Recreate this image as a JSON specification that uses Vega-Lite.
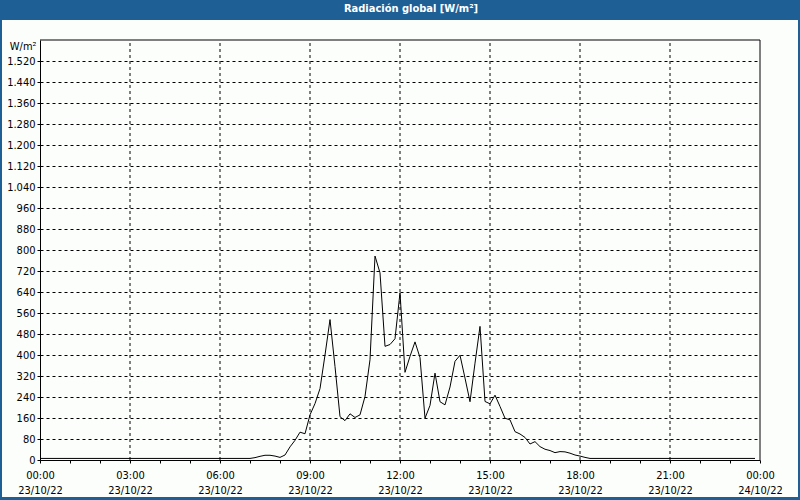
{
  "$schema": "https://vega.github.io/schema/vega-lite/v6.json",
  "width": 796,
  "height": 477,
  "autosize": {"type": "none"},
  "padding": {"left": 2, "top": 20, "right": 2, "bottom": 3},
  "background": "#1e5f96",
  "title": {
    "text": "Radiación global [W/m²]",
    "color": "#ffffff",
    "fontSize": 11,
    "fontWeight": "bold",
    "anchor": "middle",
    "frame": "group",
    "offset": 10,
    "baseline": "middle",
    "dx": 11,
    "dy": 10
  },
  "config": {
    "font": "DejaVu Sans Condensed",
    "view": {"fill": "#fcfefc", "stroke": null},
    "axis": {
      "labelColor": "#000000",
      "labelFontSize": 11,
      "domainColor": "#000000",
      "tickColor": "#000000",
      "gridColor": "#000000",
      "gridOpacity": 1,
      "gridDash": [3, 3],
      "titleColor": "#000000"
    }
  },
  "encoding": {
    "x": {
      "field": "t",
      "type": "temporal",
      "scale": {
        "domain": [{"year": 2022, "month": 10, "date": 23, "hours": 0}, {"year": 2022, "month": 10, "date": 24, "hours": 0}],
        "range": [38, 758]
      },
      "axis": {
        "orient": "bottom",
        "offset": -37,
        "values": [
          {"year": 2022, "month": 10, "date": 23, "hours": 0}, {"year": 2022, "month": 10, "date": 23, "hours": 1}, {"year": 2022, "month": 10, "date": 23, "hours": 2},
          {"year": 2022, "month": 10, "date": 23, "hours": 3}, {"year": 2022, "month": 10, "date": 23, "hours": 4}, {"year": 2022, "month": 10, "date": 23, "hours": 5},
          {"year": 2022, "month": 10, "date": 23, "hours": 6}, {"year": 2022, "month": 10, "date": 23, "hours": 7}, {"year": 2022, "month": 10, "date": 23, "hours": 8},
          {"year": 2022, "month": 10, "date": 23, "hours": 9}, {"year": 2022, "month": 10, "date": 23, "hours": 10}, {"year": 2022, "month": 10, "date": 23, "hours": 11},
          {"year": 2022, "month": 10, "date": 23, "hours": 12}, {"year": 2022, "month": 10, "date": 23, "hours": 13}, {"year": 2022, "month": 10, "date": 23, "hours": 14},
          {"year": 2022, "month": 10, "date": 23, "hours": 15}, {"year": 2022, "month": 10, "date": 23, "hours": 16}, {"year": 2022, "month": 10, "date": 23, "hours": 17},
          {"year": 2022, "month": 10, "date": 23, "hours": 18}, {"year": 2022, "month": 10, "date": 23, "hours": 19}, {"year": 2022, "month": 10, "date": 23, "hours": 20},
          {"year": 2022, "month": 10, "date": 23, "hours": 21}, {"year": 2022, "month": 10, "date": 23, "hours": 22}, {"year": 2022, "month": 10, "date": 23, "hours": 23},
          {"year": 2022, "month": 10, "date": 24, "hours": 0}
        ],
        "labelExpr": "indexof(['00','03','06','09','12','15','18','21'], timeFormat(datum.value, '%H')) >= 0 ? [timeFormat(datum.value, '%H:%M'), timeFormat(datum.value, '%d/%m/%y')] : ''",
        "grid": false,
        "ticks": true,
        "tickSize": 3,
        "domain": true,
        "labelFlush": false,
        "labelOverlap": false,
        "labelBound": false,
        "labelPadding": 6,
        "labelLineHeight": 15,
        "labelBaseline": "top",
        "title": null
      }
    },
    "y": {
      "field": "v",
      "type": "quantitative",
      "scale": {"domain": [0, 1600], "range": [440, 20], "nice": false},
      "axis": {
        "orient": "left",
        "offset": -38,
        "values": [0, 80, 160, 240, 320, 400, 480, 560, 640, 720, 800, 880, 960, 1040, 1120, 1200, 1280, 1360, 1440, 1520],
        "labelExpr": "replace(format(datum.value, ','), ',', '.')",
        "grid": true,
        "ticks": true,
        "tickSize": 3,
        "domain": true,
        "labelPadding": 2,
        "labelOverlap": false,
        "labelBound": false,
        "title": "W/m²",
        "titleAngle": 0,
        "titleX": -4,
        "titleY": 26,
        "titleAlign": "right",
        "titleBaseline": "middle",
        "titleFontWeight": "normal",
        "titleFontSize": 11
      }
    }
  },
  "layer": [
    {
      "data": {"values": [
        {"t": "2022-10-23T03:00", "v": 0, "v2": 1600}, {"t": "2022-10-23T06:00", "v": 0, "v2": 1600}, {"t": "2022-10-23T09:00", "v": 0, "v2": 1600},
        {"t": "2022-10-23T12:00", "v": 0, "v2": 1600}, {"t": "2022-10-23T15:00", "v": 0, "v2": 1600}, {"t": "2022-10-23T18:00", "v": 0, "v2": 1600},
        {"t": "2022-10-23T21:00", "v": 0, "v2": 1600}
      ]},
      "mark": {"type": "rule", "color": "#000000", "strokeWidth": 1, "strokeDash": [3, 3]},
      "encoding": {"y2": {"field": "v2"}}
    },
    {
      "data": {"values": [{"t": "2022-10-24T00:00", "v": 0, "v2": 1600}]},
      "mark": {"type": "rule", "color": "#000000", "strokeWidth": 1},
      "encoding": {"y2": {"field": "v2"}}
    },
    {
      "data": {"values": [{"t": "2022-10-23T00:00", "t2": "2022-10-24T00:00", "v": 1600}]},
      "mark": {"type": "rule", "color": "#000000", "strokeWidth": 1},
      "encoding": {"x2": {"field": "t2"}}
    },
    {
      "data": {
        "values": [
          {"t": "2022-10-23T00:00", "v": 6}, {"t": "2022-10-23T00:10", "v": 6}, {"t": "2022-10-23T00:20", "v": 6}, {"t": "2022-10-23T00:30", "v": 6}, {"t": "2022-10-23T00:40", "v": 6}, {"t": "2022-10-23T00:50", "v": 6},
          {"t": "2022-10-23T01:00", "v": 6}, {"t": "2022-10-23T01:10", "v": 6}, {"t": "2022-10-23T01:20", "v": 6}, {"t": "2022-10-23T01:30", "v": 6}, {"t": "2022-10-23T01:40", "v": 6}, {"t": "2022-10-23T01:50", "v": 6},
          {"t": "2022-10-23T02:00", "v": 6}, {"t": "2022-10-23T02:10", "v": 6}, {"t": "2022-10-23T02:20", "v": 6}, {"t": "2022-10-23T02:30", "v": 6}, {"t": "2022-10-23T02:40", "v": 6}, {"t": "2022-10-23T02:50", "v": 6},
          {"t": "2022-10-23T03:00", "v": 6}, {"t": "2022-10-23T03:10", "v": 6}, {"t": "2022-10-23T03:20", "v": 6}, {"t": "2022-10-23T03:30", "v": 6}, {"t": "2022-10-23T03:40", "v": 6}, {"t": "2022-10-23T03:50", "v": 6},
          {"t": "2022-10-23T04:00", "v": 6}, {"t": "2022-10-23T04:10", "v": 6}, {"t": "2022-10-23T04:20", "v": 6}, {"t": "2022-10-23T04:30", "v": 6}, {"t": "2022-10-23T04:40", "v": 6}, {"t": "2022-10-23T04:50", "v": 6},
          {"t": "2022-10-23T05:00", "v": 6}, {"t": "2022-10-23T05:10", "v": 6}, {"t": "2022-10-23T05:20", "v": 6}, {"t": "2022-10-23T05:30", "v": 6}, {"t": "2022-10-23T05:40", "v": 6}, {"t": "2022-10-23T05:50", "v": 6},
          {"t": "2022-10-23T06:00", "v": 6}, {"t": "2022-10-23T06:10", "v": 6}, {"t": "2022-10-23T06:20", "v": 6}, {"t": "2022-10-23T06:30", "v": 6}, {"t": "2022-10-23T06:40", "v": 6}, {"t": "2022-10-23T06:50", "v": 6},
          {"t": "2022-10-23T07:00", "v": 6}, {"t": "2022-10-23T07:10", "v": 9}, {"t": "2022-10-23T07:20", "v": 14}, {"t": "2022-10-23T07:30", "v": 18}, {"t": "2022-10-23T07:40", "v": 18}, {"t": "2022-10-23T07:50", "v": 15},
          {"t": "2022-10-23T08:00", "v": 10}, {"t": "2022-10-23T08:10", "v": 19}, {"t": "2022-10-23T08:20", "v": 50}, {"t": "2022-10-23T08:30", "v": 75}, {"t": "2022-10-23T08:40", "v": 106}, {"t": "2022-10-23T08:50", "v": 100},
          {"t": "2022-10-23T09:00", "v": 172}, {"t": "2022-10-23T09:10", "v": 215}, {"t": "2022-10-23T09:20", "v": 272}, {"t": "2022-10-23T09:30", "v": 400}, {"t": "2022-10-23T09:40", "v": 535}, {"t": "2022-10-23T09:50", "v": 356},
          {"t": "2022-10-23T10:00", "v": 165}, {"t": "2022-10-23T10:10", "v": 150}, {"t": "2022-10-23T10:20", "v": 176}, {"t": "2022-10-23T10:30", "v": 162}, {"t": "2022-10-23T10:40", "v": 172}, {"t": "2022-10-23T10:50", "v": 242},
          {"t": "2022-10-23T11:00", "v": 382}, {"t": "2022-10-23T11:10", "v": 777}, {"t": "2022-10-23T11:20", "v": 713}, {"t": "2022-10-23T11:30", "v": 433}, {"t": "2022-10-23T11:40", "v": 440}, {"t": "2022-10-23T11:50", "v": 462},
          {"t": "2022-10-23T12:00", "v": 637}, {"t": "2022-10-23T12:10", "v": 334}, {"t": "2022-10-23T12:20", "v": 395}, {"t": "2022-10-23T12:30", "v": 450}, {"t": "2022-10-23T12:40", "v": 390}, {"t": "2022-10-23T12:50", "v": 159},
          {"t": "2022-10-23T13:00", "v": 208}, {"t": "2022-10-23T13:10", "v": 331}, {"t": "2022-10-23T13:20", "v": 222}, {"t": "2022-10-23T13:30", "v": 210}, {"t": "2022-10-23T13:40", "v": 278}, {"t": "2022-10-23T13:50", "v": 376},
          {"t": "2022-10-23T14:00", "v": 399}, {"t": "2022-10-23T14:10", "v": 312}, {"t": "2022-10-23T14:20", "v": 222}, {"t": "2022-10-23T14:30", "v": 369}, {"t": "2022-10-23T14:40", "v": 509}, {"t": "2022-10-23T14:50", "v": 223},
          {"t": "2022-10-23T15:00", "v": 214}, {"t": "2022-10-23T15:10", "v": 247}, {"t": "2022-10-23T15:20", "v": 204}, {"t": "2022-10-23T15:30", "v": 159}, {"t": "2022-10-23T15:40", "v": 153}, {"t": "2022-10-23T15:50", "v": 108},
          {"t": "2022-10-23T16:00", "v": 99}, {"t": "2022-10-23T16:10", "v": 86}, {"t": "2022-10-23T16:20", "v": 61}, {"t": "2022-10-23T16:30", "v": 70}, {"t": "2022-10-23T16:40", "v": 51}, {"t": "2022-10-23T16:50", "v": 41},
          {"t": "2022-10-23T17:00", "v": 36}, {"t": "2022-10-23T17:10", "v": 28}, {"t": "2022-10-23T17:20", "v": 32}, {"t": "2022-10-23T17:30", "v": 31}, {"t": "2022-10-23T17:40", "v": 26}, {"t": "2022-10-23T17:50", "v": 19},
          {"t": "2022-10-23T18:00", "v": 15}, {"t": "2022-10-23T18:10", "v": 10}, {"t": "2022-10-23T18:20", "v": 6}, {"t": "2022-10-23T18:30", "v": 6}, {"t": "2022-10-23T18:40", "v": 6}, {"t": "2022-10-23T18:50", "v": 6},
          {"t": "2022-10-23T19:00", "v": 6}, {"t": "2022-10-23T19:10", "v": 6}, {"t": "2022-10-23T19:20", "v": 6}, {"t": "2022-10-23T19:30", "v": 6}, {"t": "2022-10-23T19:40", "v": 6}, {"t": "2022-10-23T19:50", "v": 6},
          {"t": "2022-10-23T20:00", "v": 6}, {"t": "2022-10-23T20:10", "v": 6}, {"t": "2022-10-23T20:20", "v": 6}, {"t": "2022-10-23T20:30", "v": 6}, {"t": "2022-10-23T20:40", "v": 6}, {"t": "2022-10-23T20:50", "v": 6},
          {"t": "2022-10-23T21:00", "v": 6}, {"t": "2022-10-23T21:10", "v": 6}, {"t": "2022-10-23T21:20", "v": 6}, {"t": "2022-10-23T21:30", "v": 6}, {"t": "2022-10-23T21:40", "v": 6}, {"t": "2022-10-23T21:50", "v": 6},
          {"t": "2022-10-23T22:00", "v": 6}, {"t": "2022-10-23T22:10", "v": 6}, {"t": "2022-10-23T22:20", "v": 6}, {"t": "2022-10-23T22:30", "v": 6}, {"t": "2022-10-23T22:40", "v": 6}, {"t": "2022-10-23T22:50", "v": 6},
          {"t": "2022-10-23T23:00", "v": 6}, {"t": "2022-10-23T23:10", "v": 6}, {"t": "2022-10-23T23:20", "v": 6}, {"t": "2022-10-23T23:30", "v": 6}, {"t": "2022-10-23T23:40", "v": 6}, {"t": "2022-10-23T23:50", "v": 6}
        ]
      },
      "mark": {"type": "line", "color": "#000000", "strokeWidth": 1}
    }
  ]
}
